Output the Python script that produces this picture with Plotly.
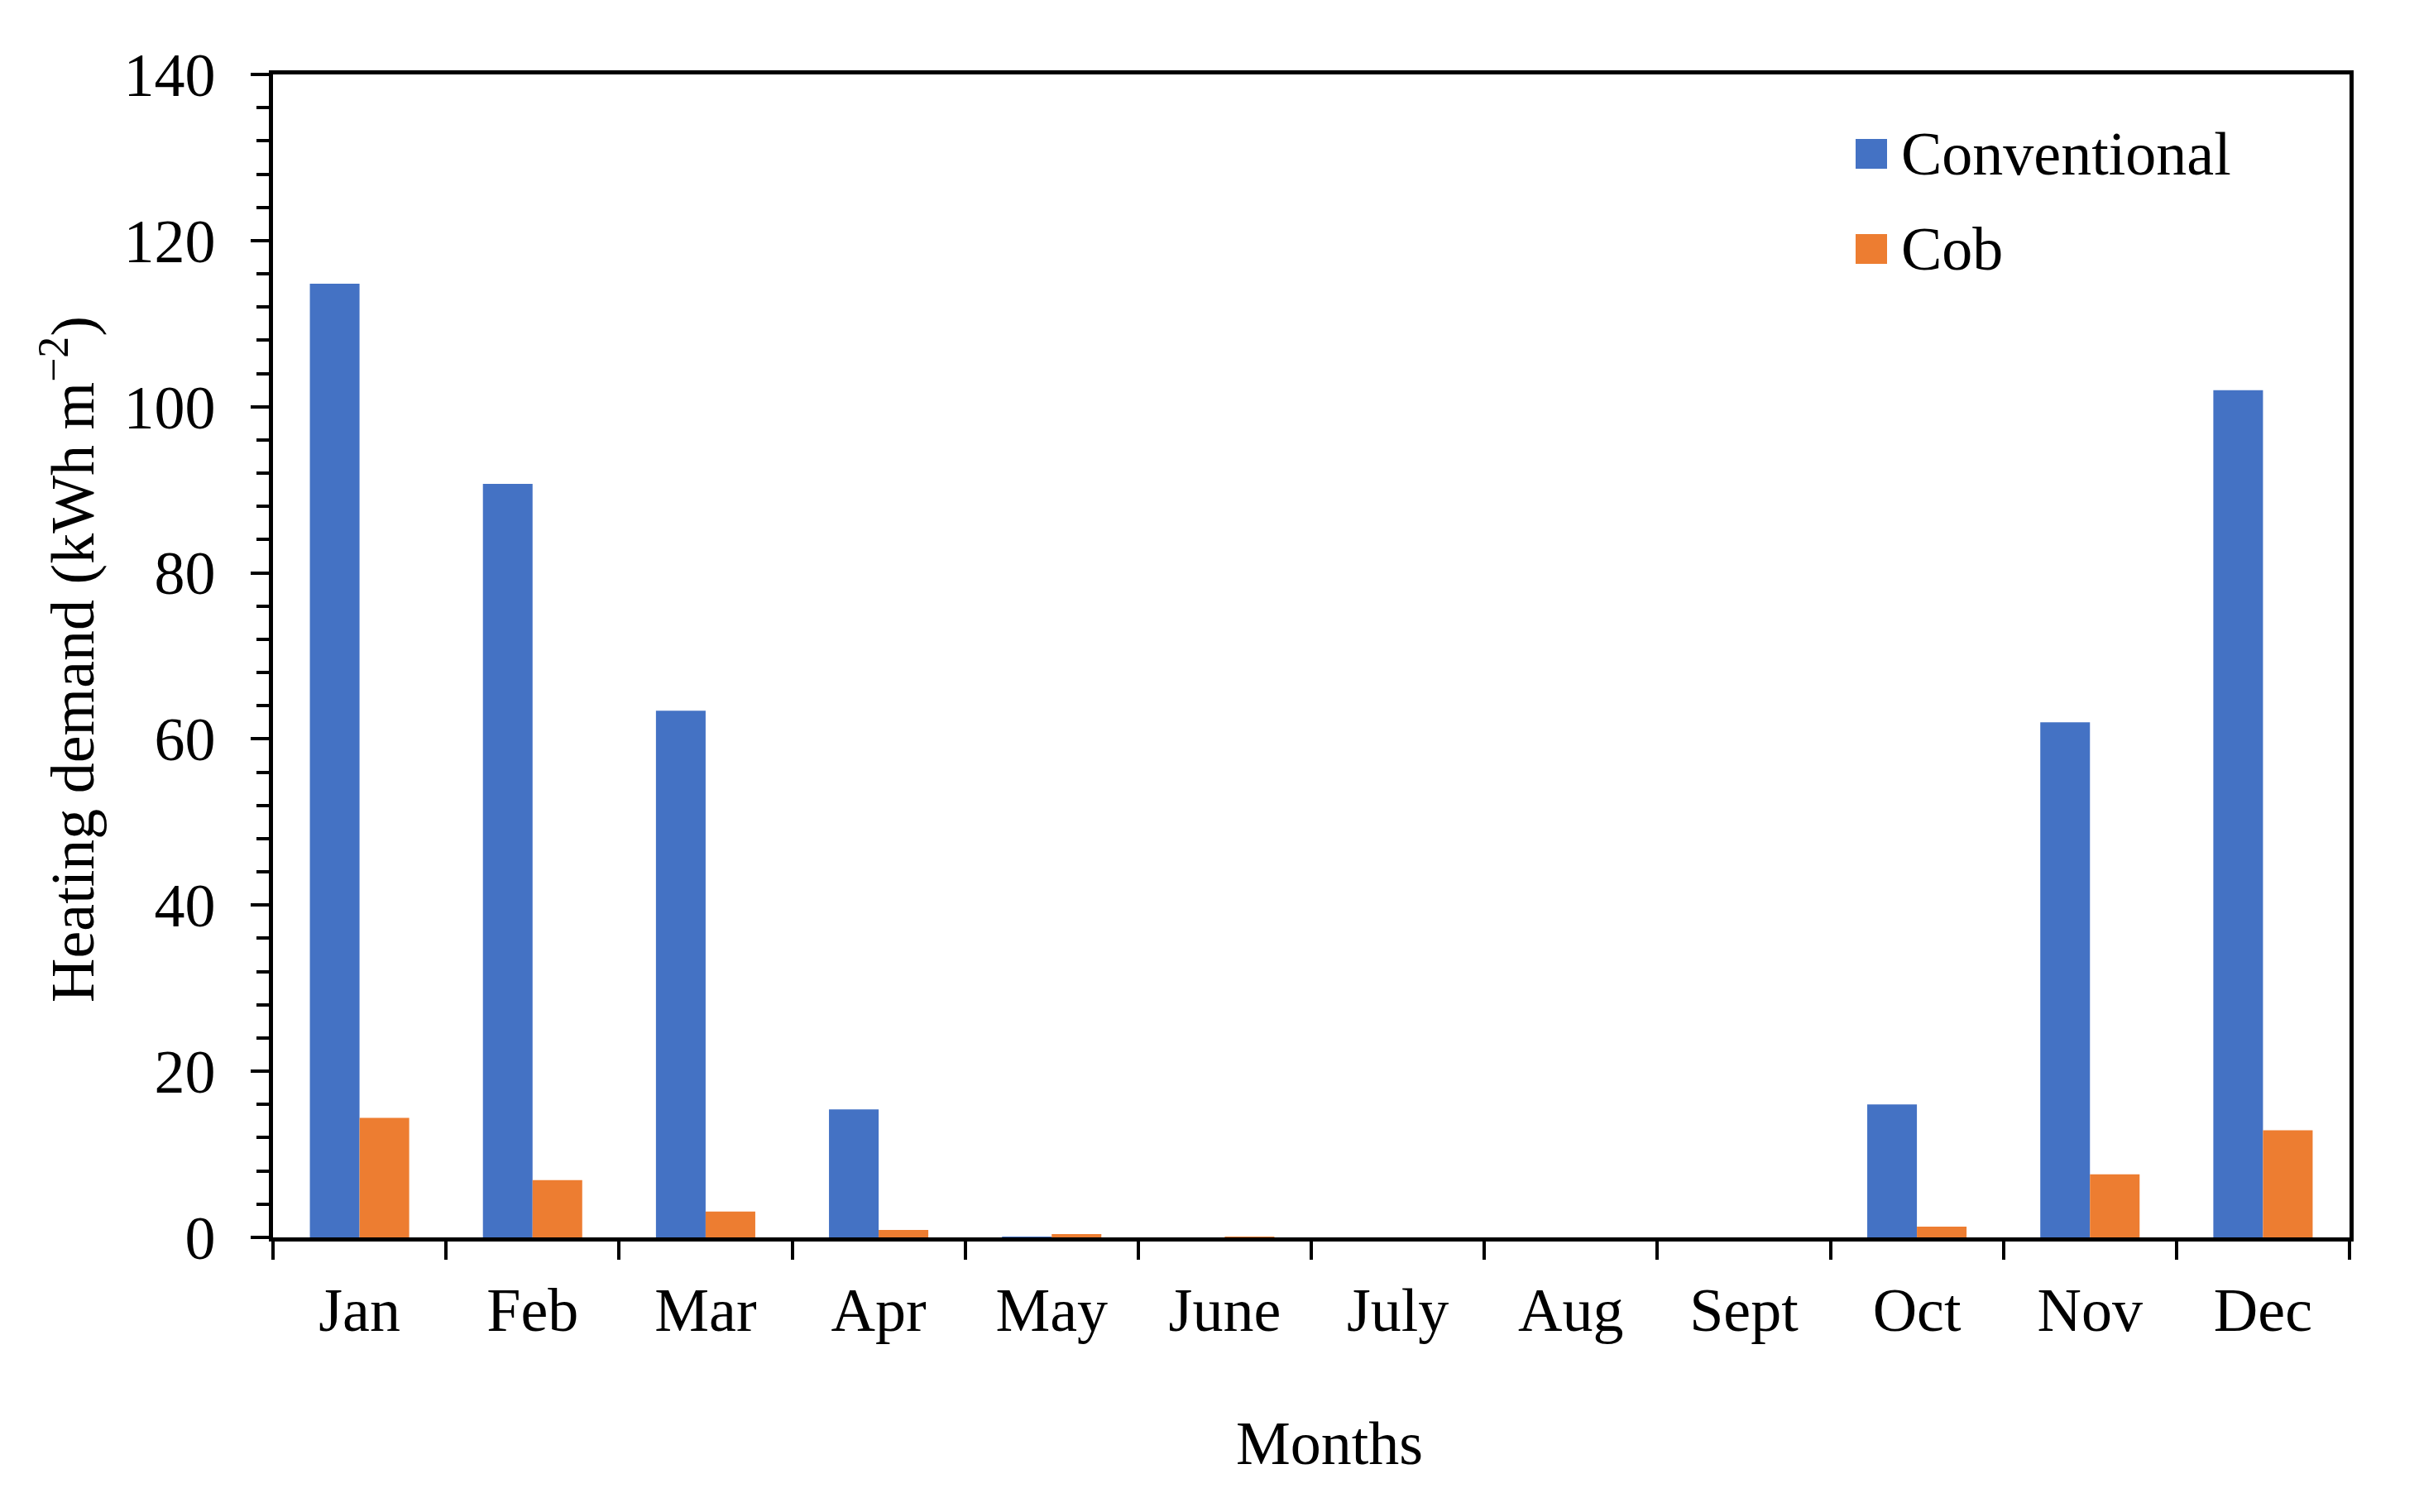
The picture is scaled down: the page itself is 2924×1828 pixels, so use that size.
import plotly.graph_objects as go

months = ["Jan", "Feb", "Mar", "Apr", "May", "June", "July", "Aug", "Sept", "Oct", "Nov", "Dec"]
conventional = [114.8, 90.7, 63.4, 15.4, 0.1, 0.0, 0.0, 0.0, 0.0, 16.0, 62.0, 102.0]
cob = [14.4, 6.9, 3.1, 0.9, 0.4, 0.05, 0.0, 0.0, 0.0, 1.3, 7.6, 12.9]
series_names = ["Conventional", "Cob"]
series_colors = ["#4472C4", "#ED7D31"]
y_ticks = [0, 20, 40, 60, 80, 100, 120, 140]

FONT = "Liberation Serif, Times New Roman, serif"
FS = 74

fig = go.Figure()
for name, vals, col in zip(series_names, [conventional, cob], series_colors):
    fig.add_trace(go.Bar(x=months, y=vals, name=name, marker=dict(color=col, line=dict(width=0)),
                         showlegend=False))

W, H = 2924, 1828
OFF = 8  # page body margin
L, R, T, B = 330 - OFF, 84 + OFF, 90 - OFF, 332 + OFF

axis_common = dict(showline=True, linecolor="black", linewidth=4.5, mirror=True,
                   ticks="outside", tickcolor="black", tickwidth=4, ticklen=22,
                   showgrid=False, zeroline=False,
                   tickfont=dict(family=FONT, size=FS, color="black"))

fig.update_layout(
    width=W, height=H,
    margin=dict(l=L, r=R, t=T, b=B, pad=0),
    paper_bgcolor="white", plot_bgcolor="white",
    barmode="group", bargap=0.426, bargroupgap=0,
    font=dict(family=FONT, size=FS, color="black"),
    xaxis=dict(**axis_common, type="category", tickson="boundaries", range=[-0.5, 11.5],
               ticklabelstandoff=19),
    yaxis=dict(**axis_common, range=[0, 140], tickvals=y_ticks, ticklabelstandoff=28,
               minor=dict(dtick=4, ticks="outside", ticklen=15, tickwidth=4, tickcolor="black")),
)

pw = W - L - R
ph = H - T - B

def px2paper_x(px):
    return (px - OFF - L) / pw

def px2paper_y(py):
    return (H - B - (py - OFF)) / ph

# axis titles
fig.add_annotation(text="Heating demand (kWh m<sup>−2</sup>)", xref="paper", yref="paper",
                   x=px2paper_x(82), y=px2paper_y(797), textangle=-90, showarrow=False,
                   xanchor="center", yanchor="middle", font=dict(family=FONT, size=FS, color="black"))
fig.add_annotation(text="Months", xref="paper", yref="paper",
                   x=px2paper_x(1607), y=px2paper_y(1745), showarrow=False,
                   xanchor="center", yanchor="middle", font=dict(family=FONT, size=FS, color="black"))

# legend (custom, large swatches)
legend_rows_y = [186, 301]
for name, col, cy in zip(series_names, series_colors, legend_rows_y):
    fig.add_shape(type="rect", xref="paper", yref="paper",
                  x0=px2paper_x(2243), x1=px2paper_x(2281),
                  y0=px2paper_y(cy + 18), y1=px2paper_y(cy - 18),
                  fillcolor=col, line=dict(width=0))
    fig.add_annotation(text=name, xref="paper", yref="paper",
                       x=px2paper_x(2296), y=px2paper_y(cy), showarrow=False,
                       xanchor="left", yanchor="middle", font=dict(family=FONT, size=FS, color="black"))

fig.write_html("out.html")
